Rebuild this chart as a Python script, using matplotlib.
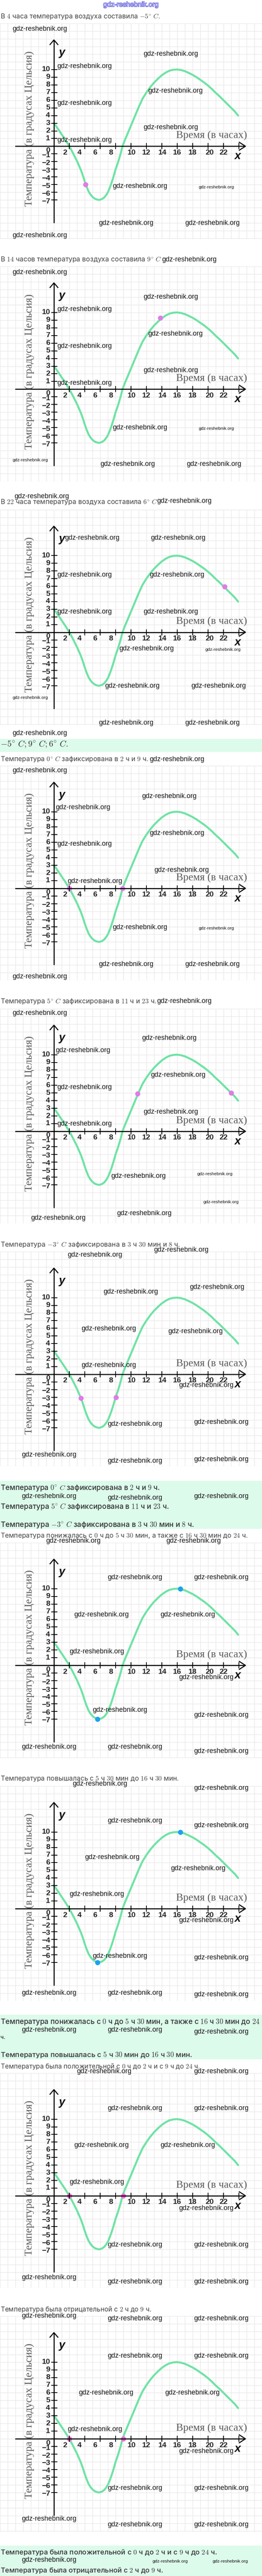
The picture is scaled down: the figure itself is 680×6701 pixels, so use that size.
import numpy as np
import matplotlib
matplotlib.use("Agg")
import matplotlib.pyplot as plt
import matplotlib.patheffects as pe
from matplotlib.patches import Rectangle

plt.rcParams['mathtext.fontset'] = 'cm'

# ---------------- data ----------------
hours = [0, 0.5, 1, 1.5, 2, 2.5, 3, 3.5, 3.75, 4, 4.25, 4.5, 4.75, 5, 5.25, 5.5, 5.85,
         6.2, 6.5, 6.75, 7, 7.25, 7.5, 7.75, 8, 8.25, 8.5, 8.7, 8.9, 9.2, 9.5, 9.75,
         10, 10.25, 10.5, 10.75, 11, 11.5, 12, 12.5, 13, 13.5, 14, 14.5, 15, 15.5,
         16, 16.5, 17, 17.5, 18, 18.5, 19, 19.5, 20, 20.5, 21, 21.5, 22, 22.5, 23,
         23.5, 23.9]
temps = [3.0, 2.3, 1.55, 0.8, 0.0, -0.95, -1.95, -3.1, -3.8, -4.6, -5.3, -5.9, -6.3, -6.6,
         -6.8, -6.92, -7.0, -6.9, -6.7, -6.4, -6.0, -5.4, -4.7, -3.9, -3.0, -2.3, -1.5,
         -0.8, 0.0, 0.8, 1.5, 2.1, 2.7, 3.3, 3.9, 4.5, 5.1, 6.2, 7.0, 7.7, 8.3, 8.8, 9.25,
         9.6, 9.85, 9.97, 10.0, 9.93, 9.78, 9.55, 9.3, 9.0, 8.65, 8.3, 7.9, 7.45, 6.95,
         6.5, 6.0, 5.5, 5.0, 4.5, 4.0]

y_tick_values = list(range(-7, 11))
x_tick_values = list(range(2, 25, 2))
x_tick_labels = ['2', '4', '6', '8', '10', '12', '14', '16', '18', '20', '22']

# highlighted points of every chart (hour, temperature)
points_hours = [[4.1], [13.8], [22.15], [2.0, 8.9], [10.85, 23.0], [3.5, 8.05],
                [5.65, 16.4], [5.65, 16.4], [2.0, 9.0], [2.0, 9.0]]
points_temps = [[-5.0], [9.3], [5.95], [0.0, 0.0], [4.9, 5.0], [-3.1, -3.0],
                [-7.0, 10.0], [-7.0, 10.0], [0.0, 0.0], [0.0, 0.0]]

y_axis_label = 'Температура (в градусах Цельсия)'
x_axis_label = 'Время (в часах)'
WM = 'gdz-reshebnik.org'

# ---------------- layout / style ----------------
W, H = 680, 6701
PX = 20.0
X0 = 140.0
axis_y = [380, 1012, 1643.6, 2310.7, 2942.7, 3574.6, 4331.6, 4964.5, 5711.9, 6343.5]
tops = [61, 693, 1326, 1992, 2624, 3256, 4013, 4646, 5393, 6025]
bottoms = [622, 1252, 1886, 2550, 3182, 3814, 4573, 5205, 5951, 6586]
VIOLET, BLUE, PINK = '#e07be9', '#1da1f0', '#f066cf'
point_colors = [VIOLET] * 6 + [BLUE, BLUE, PINK, PINK]
CURVE = '#6fe3a5'
GRID = '#e8e4e7'
xlab_shift = [-0.55, -0.7, -0.65, -0.6, 0.1, 0.0, 0.1, 0.0, 0.0, 0.2, 0.0]

fig = plt.figure(figsize=(W / 100, H / 100), dpi=100)
fig.patch.set_facecolor('white')
renderer = fig.canvas.get_renderer()


def fit(t, target, use_height=False):
    for _ in range(2):
        bb = t.get_window_extent(renderer)
        cur = bb.height if use_height else bb.width
        if cur > 0:
            t.set_fontsize(t.get_fontsize() * target / cur)


ylab_fs = None
xlab_fs = None
for i, (ay, top, bot) in enumerate(zip(axis_y, tops, bottoms)):
    ax = fig.add_axes([0, 1 - bot / H, 1, (bot - top) / H])
    ax.set_xlim(-X0 / PX, (W - X0) / PX)
    ax.set_ylim(-(bot - ay) / PX, (ay - top) / PX)
    ax.set_xticks(np.arange(-7, 28))
    ax.set_yticks(np.arange(-12, 17))
    ax.grid(True, color=GRID, lw=0.9)
    ax.set_axisbelow(True)
    ax.tick_params(length=0, labelbottom=False, labelleft=False)
    for s in ax.spines.values():
        s.set_visible(False)

    # curve and highlighted points
    ax.plot(hours, temps, color=CURVE, lw=3.7, solid_capstyle='round',
            solid_joinstyle='round', zorder=3)
    ax.plot(points_hours[i], points_temps[i], 'o', ms=9.5, color=point_colors[i],
            mec='none', zorder=4)

    # axes with arrows
    k = dict(color='black', lw=1.9, zorder=5, solid_capstyle='butt')
    ax.plot([-5.05, 24.85], [0, 0], **k)
    ax.plot([0, 0], [-10.0, 13.85], **k)
    ax.plot([24.0, 24.85, 24.0], [0.55, 0, -0.55], **k)
    ax.plot([-0.55, 0, 0.55], [13.2, 13.85, 13.2], **k)
    for v in y_tick_values:
        ax.plot([-0.28, 0.42], [v, v], color='black', lw=1.4, zorder=5)
    for v in x_tick_values:
        ax.plot([v, v], [-0.35, 0.35], color='black', lw=1.4, zorder=5)

    # tick labels
    tk = dict(fontsize=14, fontweight='bold', family='Liberation Sans', color='#222222', zorder=6)
    for v in y_tick_values:
        if v == 0:
            continue
        lab = str(v) if v > 0 else '\u2212' + str(-v)
        ax.text(-0.5, v if v > 0 else v - 0.2, lab, ha='right', va='center', **tk)
    ax.text(-0.5, -0.55, '0', ha='right', va='center', **tk)
    for v, lab, sh in zip(x_tick_values, x_tick_labels, xlab_shift):
        ax.text(v + sh, -0.85, lab, ha='center', va='center', **tk)

    ax.text(1.0, 12.2, 'y', fontsize=21, fontweight='bold', style='italic',
            family='Liberation Sans', ha='center', va='center', color='#111111', zorder=6)
    ax.text(23.8, -1.3, 'x', fontsize=21, fontweight='bold', style='italic',
            family='Liberation Sans', ha='center', va='center', color='#111111', zorder=6)

    tyl = ax.text(-3.2, 2.3, y_axis_label, rotation=90, ha='center', va='center',
                  family='Liberation Serif', color='#5a5a5a', fontsize=17, zorder=6)
    txl = ax.text(20.45, 1.4, x_axis_label, ha='center', va='center',
                  family='Liberation Serif', color='#5a5a5a', fontsize=17, zorder=6)
    if ylab_fs is None:
        fit(tyl, 403, use_height=True)
        fit(txl, 184)
        ylab_fs = tyl.get_fontsize()
        xlab_fs = txl.get_fontsize()
    else:
        tyl.set_fontsize(ylab_fs)
        txl.set_fontsize(xlab_fs)

# ---------------- page overlay: texts, boxes, watermarks ----------------
pg = fig.add_axes([0, 0, 1, 1], zorder=20)
pg.set_xlim(0, W)
pg.set_ylim(H, 0)
pg.axis('off')
pg.patch.set_alpha(0)

BOX = '#dcfbeb'
for y0, y1 in [(1922, 1956), (3852, 3977), (5241, 5357), (6622, 6701)]:
    pg.add_patch(Rectangle((0, y0), W, y1 - y0, color=BOX, zorder=0, lw=0))

t_a = r"В $4$ часа температура воздуха составила $-5^{\circ}\ C.$"
t_b = r"В $14$ часов температура воздуха составила $9^{\circ}\ C$"
t_c = r"В $22$ часа температура воздуха составила $6^{\circ}\ C$"
t_box = r"$-5^{\circ}\ C; 9^{\circ}\ C; 6^{\circ}\ C.$"
t_0 = r"Температура $0^{\circ}\ C$ зафиксирована в $2$ ч и $9$ ч."
t_5 = r"Температура $5^{\circ}\ C$ зафиксирована в $11$ ч и $23$ ч."
t_m3 = r"Температура $-3^{\circ}\ C$ зафиксирована в $3$ ч $30$ мин и $8$ ч."
t_dn = r"Температура понижалась с $0$ ч до $5$ ч $30$ мин, а также с $16$ ч $30$ мин до $24$ ч."
t_dn1 = r"Температура понижалась с $0$ ч до $5$ ч $30$ мин, а также с $16$ ч $30$ мин до $24$"
t_up = r"Температура повышалась с $5$ ч $30$ мин до $16$ ч $30$ мин."
t_pos = r"Температура была положительной с $0$ ч до $2$ ч и с $9$ ч до $24$ ч."
t_neg = r"Температура была отрицательной с $2$ ч до $9$ ч."

lines = [
    (43, t_a, 415, 'p'), (675, t_b, 418, 'p'), (1306, t_c, 408, 'p'),
    (1937, t_box, 176, 'b'),
    (1974.5, t_0, 384, 'p'), (2605, t_5, 405, 'p'), (3238, t_m3, 467, 'p'),
    (3871, t_0, 414, 'b'), (3919, t_5, 438, 'b'), (3966, t_m3, 503, 'b'),
    (3995, t_dn, 642, 'p'), (4627, t_up, 463, 'p'),
    (5260, t_dn1, 673, 'b'), (5300, 'ч.', 13, 'b'), (5346, t_up, 498, 'b'),
    (5375, t_pos, 518, 'p'), (6007, t_neg, 392, 'p'),
    (6639.5, t_pos, 562, 'b'), (6687, t_neg, 423, 'b'),
]
for y, s, wdt, kind in lines:
    col = '#444444' if kind == 'p' else '#333333'
    wt = 'normal' if kind == 'p' else 'medium'
    t = pg.text(1, y, s, ha='left', va='center', family=['Inter', 'DejaVu Sans'],
                color=col, fontsize=11, fontweight=wt, zorder=5)
    fit(t, wdt)

# blue header watermark
tb = pg.text(268, 12.7, WM, ha='left', va='center', color='#d8d8fb',
             family=['Liberation Sans Narrow', 'Liberation Sans'], fontsize=12, zorder=6,
             path_effects=[pe.withStroke(linewidth=1.3, foreground='#3d3dd2')])
fit(tb, 144)

L, S = 'L', 'S'
wm = [
    (32.5, 76, L), (372, 140.3, L), (148.3, 172.4, L), (383.8, 236.3, L), (148.3, 268.5, L),
    (372, 332, L), (148.3, 364.2, L), (291.9, 484.5, L), (516, 486.6, S), (255.9, 580.2, L),
    (480, 580.2, L), (32.5, 612.7, L),
    (420.7, 675.9, L), (32.5, 708.4, L), (372, 772.3, L), (148.3, 804.1, L), (383.8, 868.4, L),
    (148.3, 900.5, L), (372, 964, L), (148.3, 996.2, L), (291.9, 1112.9, L), (516, 1114.8, S),
    (32.5, 1197.5, S), (260.2, 1208, L), (484.4, 1208, L),
    (37, 1291.7, L), (407.7, 1303.7, L), (168.3, 1400, L), (391.6, 1400, L), (148.3, 1495.6, L),
    (388.2, 1495.6, L), (148.3, 1591.3, L), (372, 1591.3, L), (308.8, 1687.6, L),
    (532.6, 1690.3, S), (272.4, 1784.3, L), (496.6, 1784.3, L), (32.5, 1814.7, S),
    (255.9, 1880, L), (480.1, 1880, L), (32.5, 1907.8, L),
    (388.2, 1975.9, L), (32.5, 2004.5, L), (367.8, 2071.9, L), (144, 2100.4, L),
    (388.2, 2167.8, L), (148.3, 2195.5, L), (399.9, 2263.8, L), (175.6, 2292, L),
    (291.9, 2412, L), (516, 2414.7, S), (255.9, 2508, L), (480.1, 2508, L), (32.5, 2540.2, L),
    (407.7, 2604, L), (32.5, 2635.2, L),
    (367.8, 2700.3, L), (144, 2732.4, L), (391.6, 2796.2, L), (148.3, 2828.4, L),
    (372, 2892.2, L), (148.3, 2923.9, L), (288.4, 3059.6, L), (511.8, 3054.3, S),
    (527.8, 3126.6, S), (303.6, 3156.5, L), (80.2, 3168.1, L), (399, 3251.6, L),
    (175.6, 3264.1, L),
    (268, 3360.4, L), (492.3, 3348.7, L), (211.6, 3456.3, L), (435.9, 3463.9, L),
    (211.6, 3551.9, L), (464, 3603.2, L), (279.7, 3704.1, L), (503.1, 3699.6, L),
    (56.4, 3784, L), (279.7, 3800, L), (503.1, 3796.5, L),
    (56.4, 3892.5, L), (279.7, 3896, L), (503.1, 3892.5, L), (119.3, 4008.6, L),
    (431.5, 4008.6, L),
    (279.7, 4103.9, L), (503.1, 4103.9, L), (192.1, 4200.8, L), (416.3, 4200.8, L),
    (180, 4296.8, L), (464, 4363.7, L), (239.8, 4448.6, L), (503.1, 4461, L),
    (56.4, 4544.5, L), (279.7, 4544.5, L), (503.1, 4555.7, L), (187.8, 4640.5, L),
    (503.1, 4651.7, L),
    (279.7, 4736.8, L), (503.1, 4748, L), (220.3, 4831.9, L), (443.7, 4860.4, L),
    (180, 4927.8, L), (464, 4995.7, L), (239.8, 5088.5, L), (503.1, 5092.6, L),
    (56.4, 5184.1, L), (279.7, 5184.1, L), (503.1, 5188.6, L),
    (56.4, 5280.5, L), (279.7, 5280.5, L), (503.1, 5285, L), (199.5, 5388.6, L),
    (503.1, 5388.6, L),
    (279.7, 5484.2, L), (503.1, 5484.2, L), (192.1, 5580.1, L), (416.3, 5580.1, L),
    (180, 5676.5, L), (464, 5744.3, L), (279.7, 5839.8, L), (503.1, 5839.8, L),
    (56.4, 5924, L), (279.7, 5935.8, L), (503.1, 5935.8, L),
    (56.4, 6024.2, L), (279.7, 6031.3, L), (503.1, 6031.3, L),
    (279.7, 6128.5, L), (503.1, 6128.5, L), (203.8, 6224.2, L), (428, 6224.2, L),
    (175.6, 6319.5, L), (464, 6376, L), (279.7, 6472.1, L), (503.1, 6472.1, L),
    (56.4, 6552.2, L), (279.7, 6567.8, L), (503.1, 6567.8, L),
    (56.4, 6659.7, L), (395.5, 6663, S), (551.7, 6663, S),
]
wm_fs = {}
for x, y, sz in wm:
    t = pg.text(x, y, WM, ha='left', va='center', color='#111111',
                family=['Liberation Sans Narrow', 'Liberation Sans'], fontsize=12, zorder=7)
    if sz not in wm_fs:
        fit(t, 142 if sz == L else 92)
        wm_fs[sz] = t.get_fontsize()
    else:
        t.set_fontsize(wm_fs[sz])

fig.savefig('out.png', dpi=100, facecolor='white')
